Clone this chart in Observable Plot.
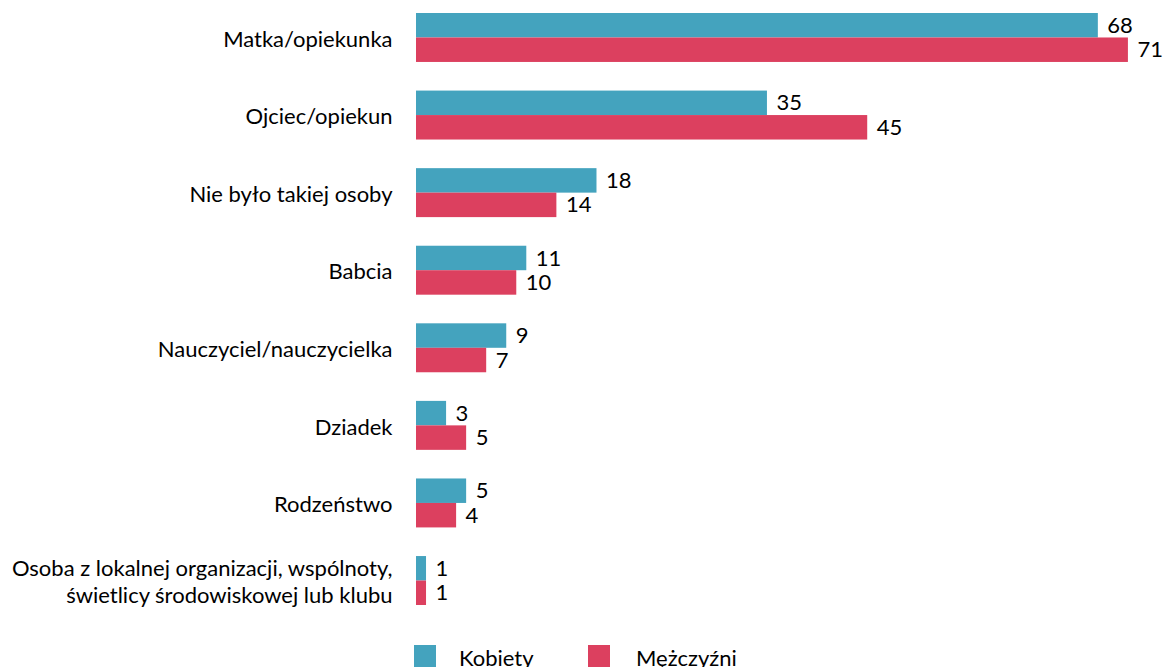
<!DOCTYPE html>
<html>
<head>
<meta charset="utf-8">
<script src="https://cdn.jsdelivr.net/npm/d3@7"></script>
<script src="https://cdn.jsdelivr.net/npm/@observablehq/plot@0.6"></script>
<style>
  body { margin: 0; background: #fff; font-family: Lato, "Open Sans", sans-serif; }
  #wrap { position: relative; width: 1165px; height: 667px; overflow: hidden; }
  .legend { position: absolute; top: 645px; left: 0; width: 1165px; height: 30px; font-size: 22px; color: #000; }
  .legend .sw { position: absolute; top: 0; width: 22px; height: 22px; }
  .legend .lb { position: absolute; top: 0px; line-height: 26px; }
</style>
</head>
<body>
<div id="wrap">
  <div id="chart"></div>
  <div class="legend" id="legend"></div>
</div>
<script>
const categories = [
  "Matka/opiekunka",
  "Ojciec/opiekun",
  "Nie było takiej osoby",
  "Babcia",
  "Nauczyciel/nauczycielka",
  "Dziadek",
  "Rodzeństwo",
  "Osoba z lokalnej organizacji, wspólnoty,\nświetlicy środowiskowej lub klubu"
];
const seriesNames = ["Kobiety", "Mężczyźni"];
const kobiety = [68, 35, 18, 11, 9, 3, 5, 1];
const mezczyzni = [71, 45, 14, 10, 7, 5, 4, 1];
const colors = ["#44A3BE", "#DC405F"];

const data = [];
categories.forEach((c, i) => {
  data.push({cat: c, sex: seriesNames[0], value: kobiety[i]});
  data.push({cat: c, sex: seriesNames[1], value: mezczyzni[i]});
});

const chart = Plot.plot({
  width: 1165,
  height: 615,
  marginLeft: 416,
  marginRight: 7,
  marginTop: 13,
  marginBottom: 10,
  style: {fontFamily: "Lato, 'Open Sans', sans-serif", fontSize: "22px", color: "#000", background: "#fff"},
  fy: {domain: categories, paddingInner: 0.369, paddingOuter: 0, round: false, label: null},
  y: {domain: seriesNames, padding: 0, round: false, axis: null},
  x: {domain: [0, 74], axis: null},
  color: {domain: seriesNames, range: colors},
  marks: [
    Plot.barX(data, {fy: "cat", y: "sex", x: "value", fill: "sex"}),
    Plot.text(data, {fy: "cat", y: "sex", x: "value", text: d => String(d.value), textAnchor: "start", dx: 9, fontSize: 22, fill: "#000"}),
    Plot.axisFy({anchor: "left", tickSize: 0, tickPadding: 24, fontSize: 22, label: null, lineHeight: 1.23, fill: "#000"})
  ]
});
document.getElementById("chart").appendChild(chart);

const legend = document.getElementById("legend");
const pos = [{sw: 414, lb: 459}, {sw: 588, lb: 636}];
seriesNames.forEach((s, i) => {
  const sw = document.createElement("div");
  sw.className = "sw";
  sw.style.left = pos[i].sw + "px";
  sw.style.background = colors[i];
  legend.appendChild(sw);
  const lb = document.createElement("div");
  lb.className = "lb";
  lb.style.left = pos[i].lb + "px";
  lb.textContent = s;
  legend.appendChild(lb);
});
</script>
</body>
</html>
